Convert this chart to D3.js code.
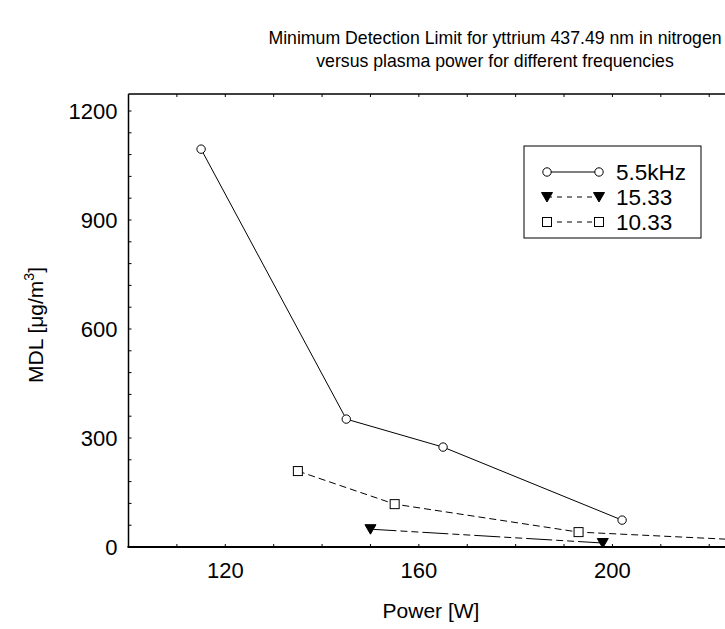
<!DOCTYPE html>
<html>
<head>
<meta charset="utf-8">
<script src="https://cdn.jsdelivr.net/npm/d3@7"></script>
<style>
  html, body { margin: 0; padding: 0; background: #fff; }
  svg { display: block; font-family: "Liberation Sans", Arial, sans-serif; }
</style>
</head>
<body>
<svg id="chart" width="725" height="629"></svg>
<script>
// MDL of yttrium 437.49 nm in nitrogen vs plasma power
const series55 = [
  { power: 115, mdl: 1095 },
  { power: 145, mdl: 352 },
  { power: 165, mdl: 275 },
  { power: 202, mdl: 74 }
];
const series1533 = [
  { power: 150, mdl: 49 },
  { power: 198, mdl: 11 }
];
const series1033 = [
  { power: 135, mdl: 209 },
  { power: 155, mdl: 118 },
  { power: 193, mdl: 41 },
  { power: 240, mdl: 11 }
];
const legendLabels = ["5.5kHz", "15.33", "10.33"];
const yMajorTicks = [0, 300, 600, 900, 1200];
const xMajorTicks = [120, 160, 200];

const svg = d3.select("#chart");
const plotLeft = 128.5, plotTop = 94, plotBottom = 547, plotRight = 806;

const x = d3.scaleLinear().domain([100, 240]).range([plotLeft, plotRight]);
const y = d3.scaleLinear().domain([0, 1200]).range([plotBottom, 111]);

// Title
const title = svg.append("text")
  .attr("text-anchor", "middle")
  .attr("font-size", 17.7)
  .attr("fill", "#000");
title.append("tspan").attr("x", 495).attr("y", 44)
  .text("Minimum Detection Limit for yttrium 437.49 nm in nitrogen");
title.append("tspan").attr("x", 495).attr("y", 67)
  .text("versus plasma power for different frequencies");

// Frame: top border and left/bottom axes
svg.append("line").attr("x1", plotLeft).attr("x2", plotRight)
  .attr("y1", plotTop).attr("y2", plotTop)
  .attr("stroke", "#000").attr("stroke-width", 1.5);

const yMinor = d3.range(0, 1201, 60);
const xMinor = d3.range(100, 241, 10);

// Y axis
const yAxis = svg.append("g").attr("transform", `translate(${plotLeft},0)`);
yAxis.append("line").attr("x1", 0).attr("x2", 0).attr("y1", plotTop).attr("y2", plotBottom)
  .attr("stroke", "#000").attr("stroke-width", 1.5);
yAxis.selectAll("line.tick").data(yMinor).join("line")
  .attr("class", "tick")
  .attr("x1", 0).attr("x2", 3)
  .attr("y1", d => y(d)).attr("y2", d => y(d))
  .attr("stroke", "#000").attr("stroke-width", 1);
yAxis.selectAll("text").data(yMajorTicks).join("text")
  .attr("x", -11).attr("y", d => y(d))
  .attr("dy", "0.36em")
  .attr("text-anchor", "end")
  .attr("font-size", 22)
  .text(d => d);

// X axis
const xAxis = svg.append("g");
xAxis.append("line").attr("x1", plotLeft - 1).attr("x2", plotRight).attr("y1", plotBottom).attr("y2", plotBottom)
  .attr("stroke", "#000").attr("stroke-width", 2);
xAxis.selectAll("line.tick").data(xMinor).join("line")
  .attr("class", "tick")
  .attr("x1", d => x(d)).attr("x2", d => x(d))
  .attr("y1", plotBottom).attr("y2", plotBottom - 3)
  .attr("stroke", "#000").attr("stroke-width", 1);
xAxis.selectAll("line.toptick").data(xMinor).join("line")
  .attr("class", "toptick")
  .attr("x1", d => x(d)).attr("x2", d => x(d))
  .attr("y1", plotTop).attr("y2", plotTop + 3)
  .attr("stroke", "#000").attr("stroke-width", 1);
xAxis.selectAll("text").data(xMajorTicks).join("text")
  .attr("x", d => x(d)).attr("y", 578)
  .attr("text-anchor", "middle")
  .attr("font-size", 22)
  .text(d => d);

// Axis titles
svg.append("text")
  .attr("x", 431).attr("y", 618)
  .attr("text-anchor", "middle")
  .attr("font-size", 21)
  .text("Power [W]");

const yTitle = svg.append("text")
  .attr("transform", "translate(43,325) rotate(-90)")
  .attr("text-anchor", "middle")
  .attr("font-size", 21);
yTitle.append("tspan").text("MDL [μg/m");
yTitle.append("tspan").attr("font-size", 14).attr("dy", -9).text("3");
yTitle.append("tspan").attr("dy", 9).text("]");

// Plot clip
svg.append("clipPath").attr("id", "plotClip")
  .append("rect").attr("x", plotLeft).attr("y", plotTop)
  .attr("width", plotRight - plotLeft).attr("height", plotBottom - plotTop);

const plot = svg.append("g").attr("clip-path", "url(#plotClip)");
const line = d3.line().x(d => x(d.power)).y(d => y(d.mdl));

function drawSeries(data, dash, marker) {
  plot.append("path").datum(data)
    .attr("d", line)
    .attr("fill", "none")
    .attr("stroke", "#000")
    .attr("stroke-width", 1)
    .attr("stroke-dasharray", dash);
  const g = plot.append("g");
  data.forEach(d => marker(g, x(d.power), y(d.mdl)));
}

function circleMarker(g, cx, cy) {
  g.append("circle").attr("cx", cx).attr("cy", cy).attr("r", 4.2)
    .attr("fill", "#fff").attr("stroke", "#000").attr("stroke-width", 1);
}
function squareMarker(g, cx, cy) {
  g.append("rect").attr("x", cx - 4.5).attr("y", cy - 4.5).attr("width", 9).attr("height", 9)
    .attr("fill", "#fff").attr("stroke", "#000").attr("stroke-width", 1);
}
function triangleMarker(g, cx, cy) {
  g.append("path")
    .attr("d", `M${cx - 5.5},${cy - 4.5} L${cx + 5.5},${cy - 4.5} L${cx},${cy + 5} Z`)
    .attr("fill", "#000").attr("stroke", "#000").attr("stroke-width", 1);
}

drawSeries(series1033, "7,4", squareMarker);
drawSeries(series1533, "26,4,7,4,7,4", triangleMarker);
drawSeries(series55, null, circleMarker);

// Legend
const lg = svg.append("g");
lg.append("rect").attr("x", 524).attr("y", 146).attr("width", 177).attr("height", 92)
  .attr("fill", "#fff").attr("stroke", "#000").attr("stroke-width", 1);
const legendItems = [
  { label: legendLabels[0], dash: null, marker: circleMarker },
  { label: legendLabels[1], dash: "5,5", marker: triangleMarker },
  { label: legendLabels[2], dash: "5,5", marker: squareMarker }
];
legendItems.forEach((it, i) => {
  const cy = 172 + i * 25;
  lg.append("line").attr("x1", 547).attr("x2", 599).attr("y1", cy).attr("y2", cy)
    .attr("stroke", "#000").attr("stroke-width", 1)
    .attr("stroke-dasharray", it.dash);
  it.marker(lg, 547, cy);
  it.marker(lg, 599, cy);
  lg.append("text").attr("x", 616).attr("y", cy).attr("dy", "0.36em")
    .attr("font-size", 22.5).text(it.label);
});
</script>
</body>
</html>
